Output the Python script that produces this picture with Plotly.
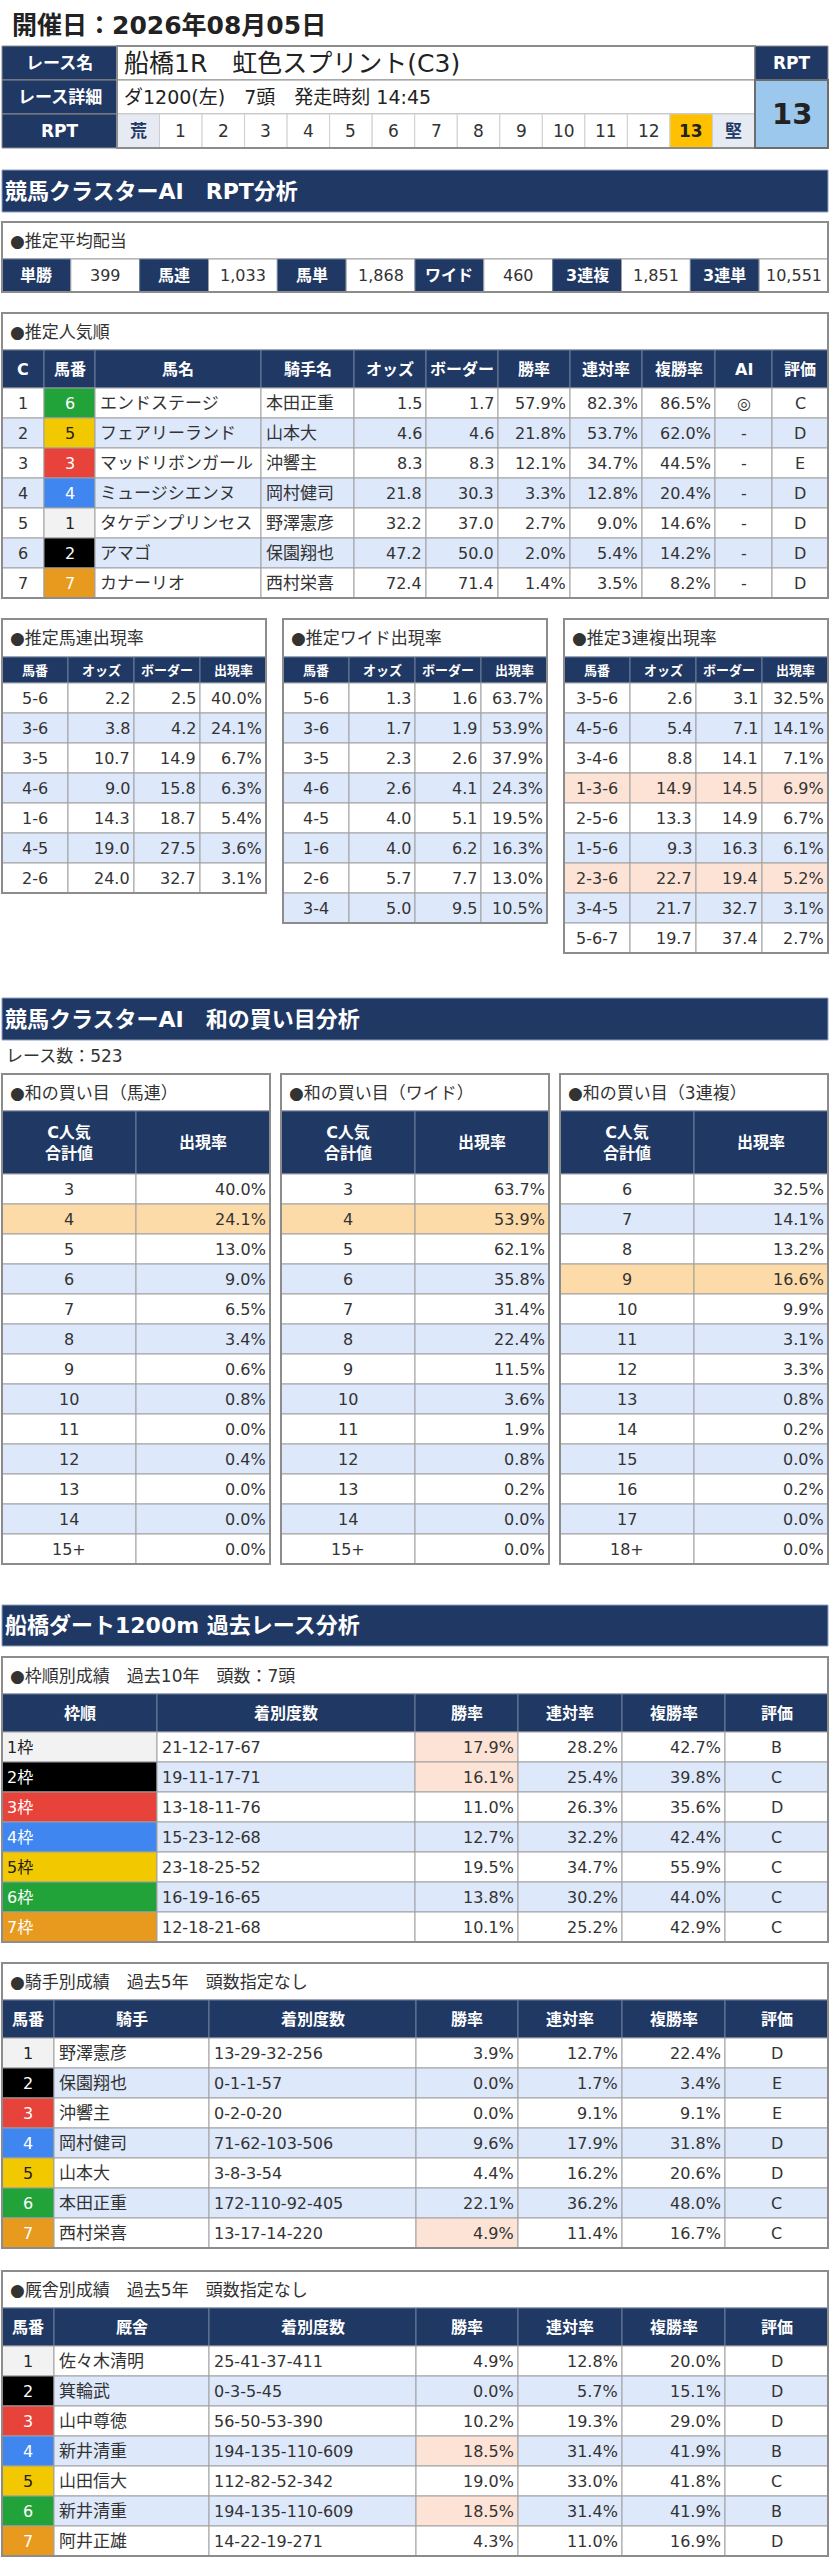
import plotly.graph_objects as go

# ---------------- data ----------------
race_date = "2026年08月05日"
race_name = "船橋1R　虹色スプリント(C3)"
race_detail = "ダ1200(左)　7頭　発走時刻 14:45"
info_labels = ["レース名", "レース詳細", "RPT"]
rpt_scale = ["荒", "1", "2", "3", "4", "5", "6", "7", "8", "9", "10", "11", "12", "13", "堅"]
rpt_value = 13

payout_types = ["単勝", "馬連", "馬単", "ワイド", "3連複", "3連単"]
payout_yen = ["399", "1,033", "1,868", "460", "1,851", "10,551"]

pop_rank = [1, 2, 3, 4, 5, 6, 7]
pop_no = [6, 5, 3, 4, 1, 2, 7]
pop_horse = ["エンドステージ", "フェアリーランド", "マッドリボンガール", "ミュージシエンヌ",
             "タケデンプリンセス", "アマゴ", "カナーリオ"]
pop_jockey = ["本田正重", "山本大", "沖響主", "岡村健司", "野澤憲彦", "保園翔也", "西村栄喜"]
pop_odds = [1.5, 4.6, 8.3, 21.8, 32.2, 47.2, 72.4]
pop_border = [1.7, 4.6, 8.3, 30.3, 37.0, 50.0, 71.4]
pop_win = [57.9, 21.8, 12.1, 3.3, 2.7, 2.0, 1.4]
pop_rentai = [82.3, 53.7, 34.7, 12.8, 9.0, 5.4, 3.5]
pop_fuku = [86.5, 62.0, 44.5, 20.4, 14.6, 14.2, 8.2]
pop_ai = ["◎", "-", "-", "-", "-", "-", "-"]
pop_eval = ["C", "D", "E", "D", "D", "D", "D"]

umaren_combo = ["5-6", "3-6", "3-5", "4-6", "1-6", "4-5", "2-6"]
umaren_odds = [2.2, 3.8, 10.7, 9.0, 14.3, 19.0, 24.0]
umaren_border = [2.5, 4.2, 14.9, 15.8, 18.7, 27.5, 32.7]
umaren_rate = [40.0, 24.1, 6.7, 6.3, 5.4, 3.6, 3.1]

wide_combo = ["5-6", "3-6", "3-5", "4-6", "4-5", "1-6", "2-6", "3-4"]
wide_odds = [1.3, 1.7, 2.3, 2.6, 4.0, 4.0, 5.7, 5.0]
wide_border = [1.6, 1.9, 2.6, 4.1, 5.1, 6.2, 7.7, 9.5]
wide_rate = [63.7, 53.9, 37.9, 24.3, 19.5, 16.3, 13.0, 10.5]

trio_combo = ["3-5-6", "4-5-6", "3-4-6", "1-3-6", "2-5-6", "1-5-6", "2-3-6", "3-4-5", "5-6-7"]
trio_odds = [2.6, 5.4, 8.8, 14.9, 13.3, 9.3, 22.7, 21.7, 19.7]
trio_border = [3.1, 7.1, 14.1, 14.5, 14.9, 16.3, 19.4, 32.7, 37.4]
trio_rate = [32.5, 14.1, 7.1, 6.9, 6.7, 6.1, 5.2, 3.1, 2.7]

race_count = 523
sum_keys_pair = ["3", "4", "5", "6", "7", "8", "9", "10", "11", "12", "13", "14", "15+"]
sum_keys_trio = ["6", "7", "8", "9", "10", "11", "12", "13", "14", "15", "16", "17", "18+"]
sum_umaren_rate = [40.0, 24.1, 13.0, 9.0, 6.5, 3.4, 0.6, 0.8, 0.0, 0.4, 0.0, 0.0, 0.0]
sum_wide_rate = [63.7, 53.9, 62.1, 35.8, 31.4, 22.4, 11.5, 3.6, 1.9, 0.8, 0.2, 0.0, 0.0]
sum_trio_rate = [32.5, 14.1, 13.2, 16.6, 9.9, 3.1, 3.3, 0.8, 0.2, 0.0, 0.2, 0.0, 0.0]
sum_umaren_pick = "4"
sum_wide_pick = "4"
sum_trio_pick = "9"

waku_label = ["1枠", "2枠", "3枠", "4枠", "5枠", "6枠", "7枠"]
waku_record = ["21-12-17-67", "19-11-17-71", "13-18-11-76", "15-23-12-68",
               "23-18-25-52", "16-19-16-65", "12-18-21-68"]
waku_win = [17.9, 16.1, 11.0, 12.7, 19.5, 13.8, 10.1]
waku_rentai = [28.2, 25.4, 26.3, 32.2, 34.7, 30.2, 25.2]
waku_fuku = [42.7, 39.8, 35.6, 42.4, 55.9, 44.0, 42.9]
waku_eval = ["B", "C", "D", "C", "C", "C", "C"]
waku_win_mark = [True, True, False, False, False, False, False]

horse_no = [1, 2, 3, 4, 5, 6, 7]
jockey_name = ["野澤憲彦", "保園翔也", "沖響主", "岡村健司", "山本大", "本田正重", "西村栄喜"]
jockey_record = ["13-29-32-256", "0-1-1-57", "0-2-0-20", "71-62-103-506",
                 "3-8-3-54", "172-110-92-405", "13-17-14-220"]
jockey_win = [3.9, 0.0, 0.0, 9.6, 4.4, 22.1, 4.9]
jockey_rentai = [12.7, 1.7, 9.1, 17.9, 16.2, 36.2, 11.4]
jockey_fuku = [22.4, 3.4, 9.1, 31.8, 20.6, 48.0, 16.7]
jockey_eval = ["D", "E", "E", "D", "D", "C", "C"]
jockey_win_mark = [False, False, False, False, False, False, True]

stable_name = ["佐々木清明", "箕輪武", "山中尊徳", "新井清重", "山田信大", "新井清重", "阿井正雄"]
stable_record = ["25-41-37-411", "0-3-5-45", "56-50-53-390", "194-135-110-609",
                 "112-82-52-342", "194-135-110-609", "14-22-19-271"]
stable_win = [4.9, 0.0, 10.2, 18.5, 19.0, 18.5, 4.3]
stable_rentai = [12.8, 5.7, 19.3, 31.4, 33.0, 31.4, 11.0]
stable_fuku = [20.0, 15.1, 29.0, 41.9, 41.8, 41.9, 16.9]
stable_eval = ["D", "D", "D", "B", "C", "B", "D"]
stable_win_mark = [False, False, False, True, False, True, False]

# ---------------- style ----------------
W, H = 830, 2560
FONT = "DejaVu Sans, Noto Sans CJK JP, sans-serif"
NAVY = "#1f3864"
BLUE = "#dde8fb"
SALMON = "#fce3d6"
ORANGE = "#fddba8"
GOLD = "#ffc000"
TXT = "#333333"
GRID = "#a0a0a0"
FRAME_FILL = {1: "#f2f2f2", 2: "#000000", 3: "#e8433a", 4: "#3f86f0",
              5: "#f2c900", 6: "#22a33a", 7: "#e89a1f"}
FRAME_TEXT = {1: "#222222", 2: "#ffffff", 3: "#ffffff", 4: "#ffffff",
              5: "#222222", 6: "#ffffff", 7: "#ffffff"}

shapes, notes = [], []


def rect(x0, y0, x1, y1, fill, line=GRID, lw=1):
    shapes.append(dict(type="rect", xref="x", yref="y", x0=x0, y0=y0, x1=x1, y1=y1,
                       fillcolor=fill, line=dict(color=line, width=lw), layer="below"))


def text(x, y, s, size=16, color=TXT, anchor="center", bold=False):
    notes.append(dict(x=x, y=y, xref="x", yref="y", text=s, showarrow=False,
                      xanchor=anchor, yanchor="middle",
                      font=dict(family=FONT, size=size, color=color,
                                weight="bold" if bold else "normal")))


def cell_text(x0, x1, yc, s, align, **kw):
    if align == "l":
        text(x0 + 3, yc, s, anchor="left", **kw)
    elif align == "r":
        text(x1 - 2, yc, s, anchor="right", **kw)
    else:
        text((x0 + x1) / 2, yc, s, **kw)


def split(x0, x1, n):
    return [x0 + (x1 - x0) * i / n for i in range(n + 1)]


def f1(vals):
    return [f"{v:.1f}" for v in vals]


def pct(vals):
    return [f"{v:.1f}%" for v in vals]


def section(top, bottom, title):
    rect(2, top, 828, bottom, NAVY, line="#8ea0bf")
    text(3, (top + bottom) / 2, title, size=22, color="white", anchor="left", bold=True)


def table(edges, top, title, headers, columns, aligns, title_h=37, head_h=38,
          head_size=16, row_h=30, sizes=None, overrides=None):
    overrides = overrides or {}
    sizes = sizes or [16] * len(columns)
    x0, x1 = edges[0], edges[-1]
    rect(x0, top, x1, top + title_h, "white")
    text(x0 + 6, top + title_h / 2, "●" + title, size=17, anchor="left")
    y = top + title_h
    for c, h in enumerate(headers):
        rect(edges[c], y, edges[c + 1], y + head_h, NAVY, line="#6f7f99")
        text((edges[c] + edges[c + 1]) / 2, y + head_h / 2, h, size=head_size,
             color="white", bold=True)
    y += head_h
    n = len(columns[0])
    for r in range(n):
        base = "white" if r % 2 == 0 else BLUE
        for c, col in enumerate(columns):
            fill, color = overrides.get((r, c), (base, TXT))
            rect(edges[c], y + r * row_h, edges[c + 1], y + (r + 1) * row_h, fill)
            cell_text(edges[c], edges[c + 1], y + (r + 0.5) * row_h, col[r], aligns[c],
                      size=sizes[c], color=color)
    bottom = y + n * row_h
    rect(x0, top, x1, bottom, "rgba(0,0,0,0)", line="#8c8c8c", lw=2)
    return bottom


# ---------------- header block ----------------
text(10, 25, "開催日：" + race_date, size=25, color="#222222", anchor="left", bold=True)

info_top, info_h = 46, 34
for i, lab in enumerate(info_labels):
    yt = info_top + i * info_h
    rect(2, yt, 117, yt + info_h, NAVY, line="#8c8c8c")
    text(59.5, yt + info_h / 2, lab, size=17, color="white", bold=True)
rect(117, info_top, 755, info_top + info_h, "white", line="#8c8c8c")
text(122, info_top + info_h / 2, race_name, size=25, color="#222222", anchor="left")
rect(117, info_top + info_h, 755, info_top + 2 * info_h, "white", line="#8c8c8c")
text(122, info_top + 1.5 * info_h, race_detail, size=19, color="#222222", anchor="left")

rpt_edges = split(117, 755, len(rpt_scale))
yt = info_top + 2 * info_h
for i, lab in enumerate(rpt_scale):
    if lab == str(rpt_value):
        fill, color, bold = GOLD, "#222222", True
    elif not lab.isdigit():
        fill, color, bold = "#e6eaf2", NAVY, True
    else:
        fill, color, bold = "white", TXT, False
    rect(rpt_edges[i], yt, rpt_edges[i + 1], yt + info_h, fill, line="#cfcfcf")
    text((rpt_edges[i] + rpt_edges[i + 1]) / 2, yt + info_h / 2, lab, size=17,
         color=color, bold=bold)
rect(117, info_top, 755, info_top + 3 * info_h, "rgba(0,0,0,0)", line="#8c8c8c", lw=2)

rect(755, info_top, 828, info_top + info_h, NAVY, line="#8c8c8c")
text(791.5, info_top + info_h / 2, "RPT", size=17, color="white", bold=True)
rect(755, info_top + info_h, 828, info_top + 3 * info_h, "#9dc8ee", line="#6d6d6d", lw=2)
text(791.5, info_top + 2 * info_h, str(rpt_value), size=29, color="#222222", bold=True)

# ---------------- RPT analysis ----------------
section(170, 212, "競馬クラスターAI　RPT分析")

pay_top = 222
rect(2, pay_top, 828, pay_top + 37, "white")
text(8, pay_top + 18.5, "●推定平均配当", size=17, anchor="left")
pay_edges = split(2, 828, 2 * len(payout_types))
py = pay_top + 37
for i, (lab, val) in enumerate(zip(payout_types, payout_yen)):
    a, b, c = pay_edges[2 * i], pay_edges[2 * i + 1], pay_edges[2 * i + 2]
    rect(a, py, b, py + 33, NAVY, line="#6f7f99")
    text((a + b) / 2, py + 16.5, lab, size=16, color="white", bold=True)
    rect(b, py, c, py + 33, "white")
    text((b + c) / 2, py + 16.5, val, size=16)
rect(2, pay_top, 828, py + 33, "rgba(0,0,0,0)", line="#8c8c8c", lw=2)

pop_edges = [2, 44, 95, 261, 354, 426, 498, 570, 642, 715, 772, 828]
table(pop_edges, 313, "推定人気順",
      ["C", "馬番", "馬名", "騎手名", "オッズ", "ボーダー", "勝率", "連対率", "複勝率", "AI", "評価"],
      [[str(v) for v in pop_rank], [str(v) for v in pop_no], pop_horse, pop_jockey,
       f1(pop_odds), f1(pop_border), pct(pop_win), pct(pop_rentai), pct(pop_fuku),
       pop_ai, pop_eval],
      "ccllrrrrrcc", sizes=[16, 16, 17, 17, 16, 16, 16, 16, 16, 16, 16],
      overrides={(r, 1): (FRAME_FILL[n], FRAME_TEXT[n]) for r, n in enumerate(pop_no)})

small_heads = ["馬番", "オッズ", "ボーダー", "出現率"]
small_sets = [
    ("推定馬連出現率", umaren_combo, umaren_odds, umaren_border, umaren_rate),
    ("推定ワイド出現率", wide_combo, wide_odds, wide_border, wide_rate),
    ("推定3連複出現率", trio_combo, trio_odds, trio_border, trio_rate),
]
for k, (title, combo, odds, border, rate) in enumerate(small_sets):
    x0 = 2 + k * (264 + 17)
    marks = {}
    for r, (o, b) in enumerate(zip(odds, border)):
        if o > b:
            for c in range(4):
                marks[(r, c)] = (SALMON, TXT)
    table(split(x0, x0 + 264, 4), 619, title, small_heads,
          [combo, f1(odds), f1(border), pct(rate)], "crrr",
          title_h=38, head_h=26, head_size=13, overrides=marks)

# ---------------- sum analysis ----------------
section(998, 1040, "競馬クラスターAI　和の買い目分析")
text(4, 1056, f"レース数：{race_count}", size=17, anchor="left")

sum_sets = [
    ("和の買い目（馬連）", sum_keys_pair, sum_umaren_rate, sum_umaren_pick),
    ("和の買い目（ワイド）", sum_keys_pair, sum_wide_rate, sum_wide_pick),
    ("和の買い目（3連複）", sum_keys_trio, sum_trio_rate, sum_trio_pick),
]
for k, (title, keys, rate, pick) in enumerate(sum_sets):
    x0 = 2 + k * (268 + 11)
    marks = {}
    for r, key in enumerate(keys):
        if key == pick:
            marks[(r, 0)] = (ORANGE, TXT)
            marks[(r, 1)] = (ORANGE, TXT)
    table(split(x0, x0 + 268, 2), 1074, title, ["C人気<br>合計値", "出現率"],
          [keys, pct(rate)], "cr", head_h=63, overrides=marks)

# ---------------- past races ----------------
section(1605, 1646, "船橋ダート1200m 過去レース分析")

marks = {}
for r, n in enumerate(horse_no):
    marks[(r, 0)] = (FRAME_FILL[n], FRAME_TEXT[n])
    if waku_win_mark[r]:
        marks[(r, 2)] = (SALMON, TXT)
table([2, 157, 415, 518, 622, 725, 828], 1657, "枠順別成績　過去10年　頭数：7頭",
      ["枠順", "着別度数", "勝率", "連対率", "複勝率", "評価"],
      [waku_label, waku_record, pct(waku_win), pct(waku_rentai), pct(waku_fuku), waku_eval],
      "llrrrc", overrides=marks)

person_edges = [2, 54, 209, 416, 518, 622, 725, 828]
person_sets = [
    (1963, "騎手別成績　過去5年　頭数指定なし", "騎手", jockey_name, jockey_record,
     jockey_win, jockey_rentai, jockey_fuku, jockey_eval, jockey_win_mark),
    (2271, "厩舎別成績　過去5年　頭数指定なし", "厩舎", stable_name, stable_record,
     stable_win, stable_rentai, stable_fuku, stable_eval, stable_win_mark),
]
for top, title, who, names, rec, win, ren, fuku, ev, mark in person_sets:
    marks = {}
    for r, n in enumerate(horse_no):
        marks[(r, 0)] = (FRAME_FILL[n], FRAME_TEXT[n])
        if mark[r]:
            marks[(r, 3)] = (SALMON, TXT)
    table(person_edges, top, title,
          ["馬番", who, "着別度数", "勝率", "連対率", "複勝率", "評価"],
          [[str(n) for n in horse_no], names, rec, pct(win), pct(ren), pct(fuku), ev],
          "cllrrrc", sizes=[16, 17, 16, 16, 16, 16, 16], overrides=marks)

# ---------------- figure ----------------
fig = go.Figure(go.Scatter(x=[], y=[], hoverinfo="skip"))
fig.update_layout(
    width=W, height=H,
    margin=dict(l=0, r=0, t=0, b=0),
    paper_bgcolor="white", plot_bgcolor="white",
    showlegend=False,
    xaxis=dict(range=[0, W], visible=False, fixedrange=True),
    yaxis=dict(range=[H, 0], visible=False, fixedrange=True),
    shapes=shapes, annotations=notes,
)
fig.write_html("out.html", config={"displayModeBar": False},
               post_script="document.body.style.margin='0';")
